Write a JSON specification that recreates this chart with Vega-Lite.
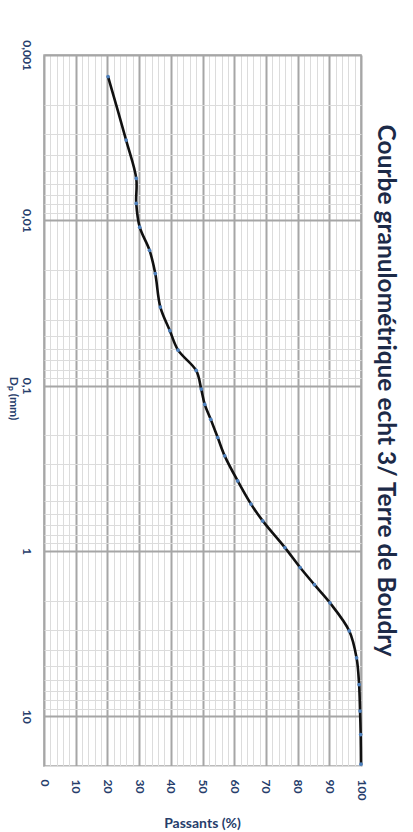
{
  "$schema": "https://vega.github.io/schema/vega-lite/v6.json",
  "width": 317,
  "height": 711,
  "autosize": {"type": "none"},
  "padding": {"left": 44, "top": 55, "right": 52, "bottom": 66},
  "background": "white",
  "config": {
    "view": {"stroke": "#a6a6a6", "strokeWidth": 1.5},
    "font": "Lato"
  },
  "title": {
    "text": "Courbe granulométrique echt 3/ Terre de Boudry",
    "orient": "right",
    "anchor": "middle",
    "font": "Lato",
    "fontSize": 24.5,
    "fontWeight": "bold",
    "color": "#1c2a48",
    "offset": 5,
    "dx": -20
  },
  "data": {
    "values": [
      {"d": 0.00135, "p": 20.2},
      {"d": 0.00327, "p": 25.9},
      {"d": 0.00558, "p": 29.1},
      {"d": 0.0079, "p": 29.1},
      {"d": 0.011, "p": 30.2},
      {"d": 0.0152, "p": 33.3},
      {"d": 0.021, "p": 35.1},
      {"d": 0.0335, "p": 36.7},
      {"d": 0.0465, "p": 39.7},
      {"d": 0.061, "p": 42.3},
      {"d": 0.081, "p": 48.0},
      {"d": 0.105, "p": 49.6},
      {"d": 0.13, "p": 50.7},
      {"d": 0.16, "p": 52.6},
      {"d": 0.206, "p": 54.8},
      {"d": 0.266, "p": 57.0},
      {"d": 0.377, "p": 61.1},
      {"d": 0.521, "p": 65.3},
      {"d": 0.658, "p": 69.0},
      {"d": 0.955, "p": 76.0},
      {"d": 1.26, "p": 80.8},
      {"d": 1.6, "p": 85.3},
      {"d": 2.06, "p": 90.2},
      {"d": 3.05, "p": 96.3},
      {"d": 4.43, "p": 98.6},
      {"d": 6.43, "p": 99.4},
      {"d": 9.3, "p": 99.7},
      {"d": 12.9, "p": 99.9},
      {"d": 19.5, "p": 100}
    ]
  },
  "encoding": {
    "x": {
      "field": "p",
      "type": "quantitative",
      "scale": {"domain": [0, 100], "nice": false, "zero": false},
      "axis": {
        "values": [0,2,4,6,8,10,12,14,16,18,20,22,24,26,28,30,32,34,36,38,40,42,44,46,48,50,52,54,56,58,60,62,64,66,68,70,72,74,76,78,80,82,84,86,88,90,92,94,96,98,100],
        "labelExpr": "datum.value % 10 === 0 ? datum.label : ''",
        "labelAngle": 90,
        "labelAlign": "left",
        "labelBaseline": "middle",
        "labelPadding": 13,
        "labelFont": "Lato",
        "labelFontSize": 12,
        "labelFontWeight": "bold",
        "labelColor": "#263d6b",
        "labelOverlap": false,
        "labelFlush": false,
        "ticks": false,
        "tickSize": 0,
        "domain": false,
        "grid": true,
        "gridColor": {"condition": {"test": "datum.value % 10 === 0", "value": "#a6a6a6"}, "value": "#dcdcdc"},
        "gridWidth": {"condition": {"test": "datum.value % 10 === 0", "value": 2}, "value": 1},
        "title": "Passants (%)",
        "titleFont": "Lato",
        "titleFontSize": 14,
        "titleFontWeight": "bold",
        "titleColor": "#263d6b",
        "titleAngle": 0,
        "titleAlign": "center",
        "titleBaseline": "middle",
        "titleX": 158,
        "titleY": 57
      }
    },
    "y": {
      "field": "d",
      "type": "quantitative",
      "scale": {"type": "log", "domain": [0.001, 20], "nice": false, "zero": false, "reverse": true},
      "axis": {
        "values": [0.001,0.002,0.003,0.004,0.005,0.006,0.007,0.008,0.009,0.01,0.02,0.03,0.04,0.05,0.06,0.07,0.08,0.09,0.1,0.2,0.3,0.4,0.5,0.6,0.7,0.8,0.9,1,2,3,4,5,6,7,8,9,10,20],
        "labelExpr": "indexof([0.001,0.01,0.1,1,10], datum.value) >= 0 ? replace(toString(datum.value), '.', ',') : ''",
        "labelAngle": 90,
        "labelAlign": "center",
        "labelBaseline": "top",
        "labelPadding": 13,
        "labelFont": "Lato",
        "labelFontSize": 12,
        "labelFontWeight": "bold",
        "labelColor": "#263d6b",
        "labelOverlap": false,
        "labelFlush": false,
        "ticks": false,
        "tickSize": 0,
        "domain": false,
        "grid": true,
        "gridColor": {"condition": {"test": "indexof([0.001,0.01,0.1,1,10], datum.value) >= 0", "value": "#a6a6a6"}, "value": "#dcdcdc"},
        "gridWidth": {"condition": {"test": "indexof([0.001,0.01,0.1,1,10], datum.value) >= 0", "value": 2}, "value": 1},
        "title": "Dₚ (mm)",
        "titleFont": "Lato",
        "titleFontSize": 12,
        "titleFontWeight": "bold",
        "titleColor": "#263d6b",
        "titleAngle": 90,
        "titleAlign": "center",
        "titleBaseline": "middle",
        "titleX": -31,
        "titleY": 343
      }
    }
  },
  "layer": [
    {
      "mark": {"type": "line", "color": "#111111", "strokeWidth": 2.6, "interpolate": "catmull-rom"},
      "encoding": {"order": {"field": "d", "type": "quantitative"}}
    },
    {
      "mark": {"type": "point", "filled": true, "shape": "circle", "color": "#4f81bd", "size": 14, "opacity": 1}
    }
  ]
}
